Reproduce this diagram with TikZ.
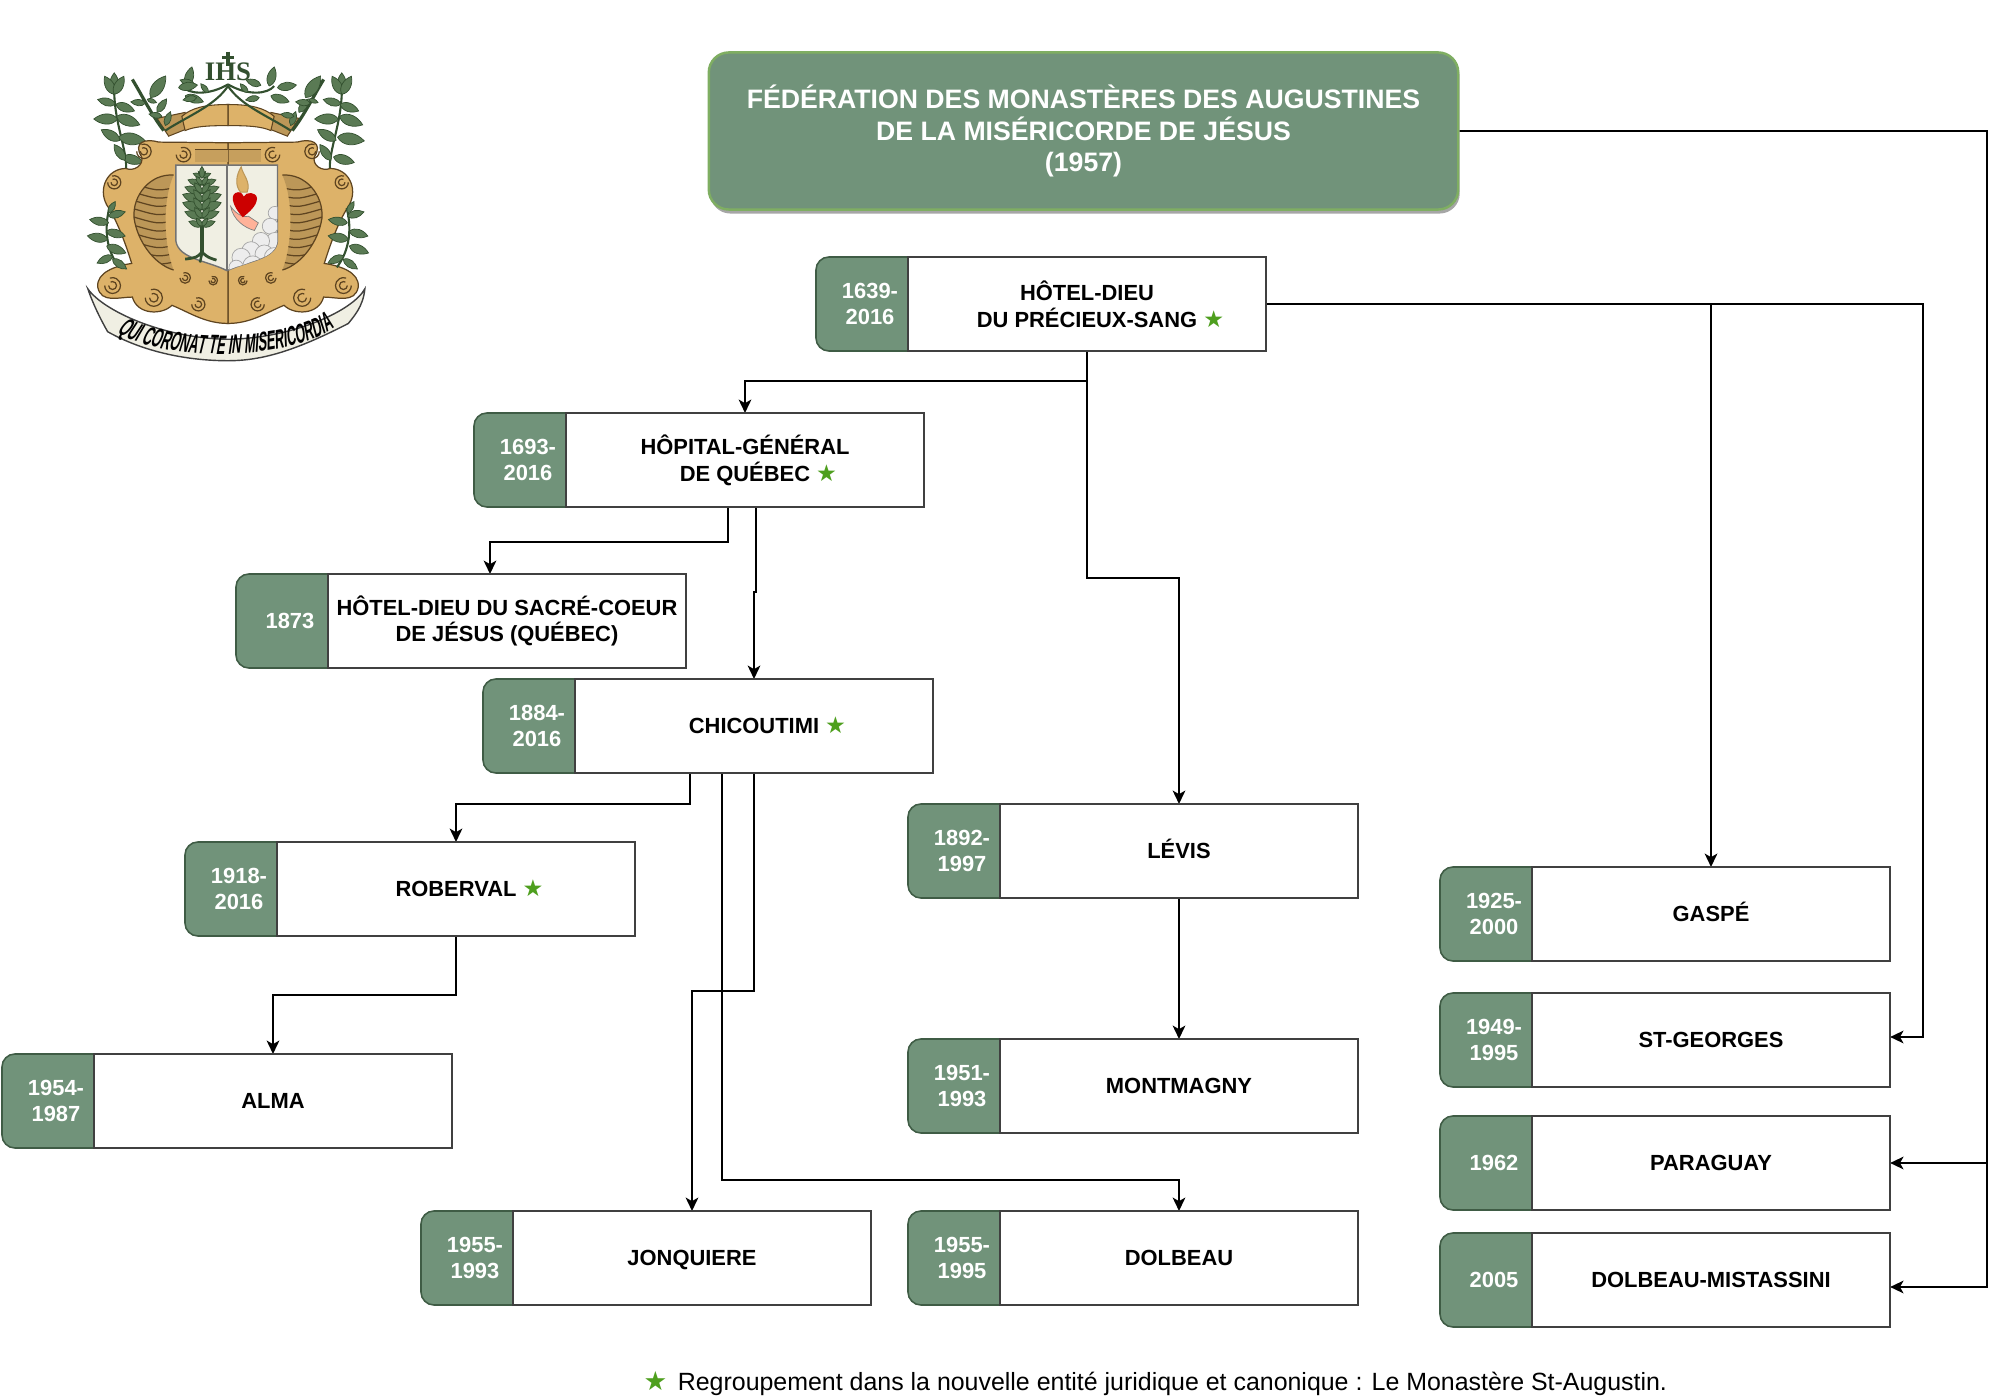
\documentclass[tikz,border=0pt]{standalone}
\usepackage{fontspec}
\setmainfont{Liberation Sans}
\newfontfamily\symbolfont{DejaVu Sans}
\newfontfamily\devisefont[FakeStretch=0.48,FakeSlant=0.18]{Liberation Sans}
\newfontfamily\ihsfont{Liberation Serif}
\usetikzlibrary{arrows.meta,decorations.text}
\definecolor{sage}{HTML}{71937A}
\definecolor{sagedark}{HTML}{3F5C45}
\definecolor{sageline}{HTML}{7FAE62}
\definecolor{stargreen}{HTML}{4E9F1E}
\definecolor{gold}{HTML}{DDB269}
\definecolor{golddark}{HTML}{BC9758}
\definecolor{brun}{HTML}{5E4420}
\definecolor{laurel}{HTML}{5A7A54}
\definecolor{laureldark}{HTML}{33502F}
\definecolor{parchemin}{HTML}{F0EFE3}
\newcommand{\cale}{\rule[-0.28em]{0pt}{1.28em}}
\pgfdeclarelayer{edgelayer}
\pgfdeclarelayer{nodelayer}
\pgfsetlayers{edgelayer,nodelayer,main}
\tikzstyle{titre}=[rectangle, rounded corners=0.2cm, fill=sage, draw=sageline, line width=0.7pt, text=white, minimum width=7.49cm, minimum height=1.57cm, align=center, outer sep=0pt, inner sep=0pt, font=\fontsize{7.58}{8.9}\selectfont\bfseries]
\tikzstyle{ombre}=[rectangle, rounded corners=0.2cm, fill=black!35, minimum width=7.49cm, minimum height=1.57cm, inner sep=0pt]
\tikzstyle{annee}=[rectangle, rounded corners=0.13cm, fill=sage, draw=sagedark, line width=0.45pt, text=white, minimum width=1.08cm, minimum height=0.94cm, align=center, outer sep=0pt, inner sep=0pt, font=\fontsize{6.23}{7.6}\selectfont\bfseries]
\tikzstyle{nom}=[rectangle, fill=white, draw=black!75, line width=0.45pt, minimum width=3.58cm, minimum height=0.94cm, align=center, outer sep=0pt, inner sep=0pt, font=\fontsize{6.23}{7.6}\selectfont\bfseries]
\tikzstyle{nomseul}=[style=nom, execute at begin node=\cale, execute at end node=\cale]
\tikzstyle{legende}=[anchor=west, inner sep=0pt, font=\fontsize{7.09}{8}\selectfont]
\tikzstyle{lien}=[-{Stealth[length=3.8pt,width=3.6pt,inset=1pt]}, draw=black, line width=0.55pt]
\tikzstyle{volute}=[draw=brun, line width=0.35pt]
\tikzstyle{tige}=[draw=laureldark, line width=0.6pt]
\tikzset{feuille/.pic={\fill[laurel, draw=laureldark, line width=0.2pt] (0,0) .. controls (10,-13) and (28,-10) .. (40,0) .. controls (28,10) and (10,13) .. (0,0);}}
\newcommand{\etoile}{{\symbolfont\fontsize{1.06em}{1em}\selectfont\textcolor{stargreen}{★}}}
\newcommand{\ecu}{(-158,410) -- (150,410) -- (150,640) .. controls (145,695) and (60,700) .. (-3,730) .. controls (-60,700) and (-150,695) .. (-158,640) -- cycle}

\begin{document}
\begin{tikzpicture}[x=0.01cm, y=-0.01cm]
            \useasboundingbox (0,0) rectangle (2000,1398);
            \begin{pgfonlayer}{nodelayer}
                \node [style=ombre] (titreO) at (1085, 135) {};
                \node [style=titre] (titre) at (1083.5, 131) {FÉDÉRATION DES MONASTÈRES DES AUGUSTINES\\DE LA MISÉRICORDE DE JÉSUS\\(1957)};

                \node [style=annee] (hdA) at (870, 304) {1639-\\2016};
                \node [style=nom] (hd) at (1087, 304) {HÔTEL-DIEU\\DU PRÉCIEUX-SANG\rlap{ \etoile}};
                \node [style=annee] (hopA) at (528, 460) {1693-\\2016};
                \node [style=nom] (hop) at (745, 460) {HÔPITAL-GÉNÉRAL\\DE QUÉBEC\rlap{ \etoile}};
                \node [style=annee] (sacA) at (290, 621) {1873};
                \node [style=nom] (sac) at (507, 621) {HÔTEL-DIEU DU SACRÉ-COEUR\\DE JÉSUS (QUÉBEC)};
                \node [style=annee] (chicA) at (537, 726) {1884-\\2016};
                \node [style=nomseul] (chic) at (754, 726) {CHICOUTIMI\rlap{ \etoile}};
                \node [style=annee] (robA) at (239, 889) {1918-\\2016};
                \node [style=nomseul] (rob) at (456, 889) {ROBERVAL\rlap{ \etoile}};
                \node [style=annee] (almaA) at (56, 1101) {1954-\\1987};
                \node [style=nomseul] (alma) at (273, 1101) {ALMA};
                \node [style=annee] (jonA) at (475, 1258) {1955-\\1993};
                \node [style=nomseul] (jon) at (692, 1258) {JONQUIERE};

                \node [style=annee] (levA) at (962, 851) {1892-\\1997};
                \node [style=nomseul] (lev) at (1179, 851) {LÉVIS};
                \node [style=annee] (montA) at (962, 1086) {1951-\\1993};
                \node [style=nomseul] (mont) at (1179, 1086) {MONTMAGNY};
                \node [style=annee] (dolA) at (962, 1258) {1955-\\1995};
                \node [style=nomseul] (dol) at (1179, 1258) {DOLBEAU};

                \node [style=annee] (gasA) at (1494, 914) {1925-\\2000};
                \node [style=nomseul] (gas) at (1711, 914) {GASPÉ};
                \node [style=annee] (geoA) at (1494, 1040) {1949-\\1995};
                \node [style=nomseul] (geo) at (1711, 1040) {ST-GEORGES};
                \node [style=annee] (parA) at (1494, 1163) {1962};
                \node [style=nomseul] (par) at (1711, 1163) {PARAGUAY};
                \node [style=annee] (misA) at (1494, 1280) {2005};
                \node [style=nomseul] (mis) at (1711, 1280) {DOLBEAU-MISTASSINI};

                \node [style=legende] (note) at (643, 1384) {\etoile\hspace{0.42em}Regroupement dans la nouvelle entité juridique et canonique : Le Monastère St-Augustin.};

                \coordinate (bendHop) at (900, 381);
                \coordinate (bendLev) at (1150, 578);
                \coordinate (bendSac) at (728, 542);
                \coordinate (inSac) at (490, 574);
                \coordinate (jogChic) at (756, 592);
                \coordinate (bendRob) at (690, 804);
                \coordinate (bendDol) at (722, 1180);
                \coordinate (bendJon) at (720, 991);
                \coordinate (bendAlma) at (350, 995);
                \coordinate (railGeo) at (1923, 1037);
                \coordinate (railPar) at (1987, 1163);
                \coordinate (railMis) at (1987, 1287);
            \end{pgfonlayer}
            \begin{pgfonlayer}{edgelayer}
                \draw [style=lien] (hd.south) |- (bendHop) -| (hop.north);
                \draw [style=lien] (hd.south) |- (bendLev) -| (lev.north);
                \draw [style=lien] (bendSac |- hop.south) -- (bendSac) -| (inSac);
                \draw [style=lien] (jogChic |- hop.south) -- (jogChic) -| (chic.north);
                \draw [style=lien] (bendRob |- chic.south) -- (bendRob) -| (rob.north);
                \draw [style=lien] (bendDol |- chic.south) -- (bendDol) -| (dol.north);
                \draw [style=lien] (chic.south) |- (bendJon) -| (jon.north);
                \draw [style=lien] (rob.south) |- (bendAlma) -| (alma.north);
                \draw [style=lien] (lev.south) -- (mont.north);
                \draw [style=lien] (hd.east) -| (gas.north);
                \draw [style=lien] (hd.east) -| (railGeo) -- (geo.east |- railGeo);
                \draw [style=lien] (titre.east) -| (railMis) -- (mis.east |- railMis);
                \draw [style=lien] (railPar) -- (par.east);
            \end{pgfonlayer}

            \begin{scope}[shift={(228, 30)}, x=0.0033cm, y=-0.0033cm]
                \foreach \cote in {1,-1} {
                    \begin{scope}[xscale=\cote]
                        \draw [style=tige] (310,435) .. controls (300,370) and (350,280) .. (345,160);
                        \foreach \px/\py/\ang/\len in {345/195/90/65, 345/195/118/62, 345/195/62/62, 340/225/-20/60, 338/262/-20/75, 332/325/-8/82, 320/385/-15/65, 342/225/165/55, 335/270/180/72, 328/335/150/65, 312/395/125/58} {
                            \pic [rotate=\ang, scale=\len/40] at (\px,\py) {feuille};
                        }
                        \fill [gold, draw=brun, line width=0.35pt] (0,342) -- (210,340) .. controls (250,328) and (290,340) .. (262,385) .. controls (255,410) and (285,430) .. (310,420) .. controls (365,420) and (395,480) .. (368,530) .. controls (335,580) and (310,650) .. (292,708) .. controls (340,715) and (400,735) .. (395,780) .. controls (385,830) and (330,810) .. (290,810) .. controls (275,865) and (200,865) .. (170,835) .. controls (120,855) and (70,890) .. (0,890) -- cycle;
                        \fill [golddark] (165,440) .. controls (235,435) and (290,500) .. (285,570) .. controls (275,640) and (225,710) .. (165,728) .. controls (195,650) and (200,520) .. (165,440) -- cycle;
                        \begin{scope}
                            \clip (165,440) .. controls (235,435) and (290,500) .. (285,570) .. controls (275,640) and (225,710) .. (165,728) .. controls (195,650) and (200,520) .. (165,440) -- cycle;
                            \foreach \py in {480,505,...,740} {
                                \draw [style=volute] (170,\py) .. controls (215,\py+8) .. (290,\py-14);
                            }
                        \end{scope}
                        \draw [style=volute] (165,440) .. controls (235,435) and (290,500) .. (285,570) .. controls (275,640) and (225,710) .. (165,728);
                        \foreach \px/\py/\r in {135/378/22, 255/368/22, 345/462/20, 350/775/24, 130/752/16, 225/812/26, 90/832/20, 45/760/13} {
                            \draw [style=volute] (\px+\r,\py) arc [start angle=0, end angle=290, radius=\r];
                            \draw [style=volute] (\px+\r/2,\py) arc [start angle=0, end angle=300, radius=\r/2];
                        }
                        \fill [golddark!70!gold] (0,365) rectangle (100,400);
                        \draw [style=volute] (0,362) -- (100,362);
                        \fill [golddark, draw=brun, line width=0.3pt] (130,250) -- (215,268) -- (180,322) -- (120,298) -- cycle;
                        \fill [gold, draw=brun, line width=0.3pt] (0,226) .. controls (70,226) and (110,236) .. (140,262) -- (130,305) .. controls (100,292) and (60,290) .. (0,290) -- cycle;
                        \draw [style=tige, line width=0.9pt] (195,305) .. controls (230,260) and (260,200) .. (290,150);
                        \draw [style=tige] (0,165) .. controls (60,200) and (120,195) .. (140,170);
                        \draw [style=tige] (0,170) .. controls (40,230) and (120,260) .. (190,305);
                        \foreach \px/\py/\ang/\len in {125/170/75/60, 100/168/160/48, 150/175/8/58, 130/200/-18/58, 95/205/190/42, 60/190/130/35, 235/205/55/80, 215/250/55/50, 250/222/175/45, 190/290/70/45, 200/262/170/40, 245/210/-20/30} {
                            \pic [rotate=\ang, scale=\len/40] at (\px,\py) {feuille};
                        }
                        \draw [style=tige] (360,540) .. controls (380,620) and (360,680) .. (330,720);
                        \foreach \px/\py/\ang/\len in {362/555/60/40, 362/565/15/52, 368/610/-15/58, 368/655/-20/62, 350/695/-35/52, 362/585/170/58, 365/635/170/62, 350/685/205/52} {
                            \pic [rotate=\ang, scale=\len/40] at (\px,\py) {feuille};
                        }
                    \end{scope}
                }
                \draw [style=tige, line width=1.1pt] (0,66) -- (0,110);
                \draw [style=tige, line width=0.9pt] (-17,84) -- (17,84);
                \node [text=laureldark, font=\ihsfont\bfseries\fontsize{7.6}{8}\selectfont, inner sep=0pt] (ihs) at (0,128) {IHS};

                \fill [parchemin, draw=black!55, line width=0.4pt] \ecu;
                \begin{scope}
                    \clip \ecu;
                    \foreach \px/\py/\r in {142/555/20, 128/595/24, 142/640/26, 100/640/26, 70/670/28, 40/690/28, 110/680/28, 140/690/30, 25/720/22, 75/715/30} {
                        \fill [black!7, draw=black!35, line width=0.2pt] (\px,\py) circle (\r);
                    }
                \end{scope}
                \draw [draw=black!55, line width=0.5pt] (-3,410) -- (-3,730);
                \fill [laureldark] (-85,590) rectangle (-73,680);
                \draw [style=tige, line width=0.8pt] (-80,675) .. controls (-95,690) .. (-130,695);
                \draw [style=tige, line width=0.8pt] (-78,675) .. controls (-60,690) .. (-35,698);
                \draw [style=tige, line width=0.7pt] (-79,678) -- (-85,705);
                \foreach \py/\len in {445/28, 470/45, 495/55, 520/62, 545/62, 570/55, 595/42} {
                    \pic [rotate=20, scale=\len/40] at (-79,\py) {feuille};
                    \pic [rotate=160, scale=\len/40] at (-79,\py) {feuille};
                    \pic [rotate=55, scale=0.7*\len/40] at (-79,\py) {feuille};
                    \pic [rotate=125, scale=0.7*\len/40] at (-79,\py) {feuille};
                }
                \pic [rotate=90, scale=0.9] at (-79,450) {feuille};

                \fill [gold, draw=golddark, line width=0.3pt] (38,492) .. controls (20,470) and (25,440) .. (40,415) .. controls (45,440) and (70,460) .. (58,492) -- cycle;
                \fill [pink!80!orange, draw=black!50, line width=0.2pt] (8,535) .. controls (25,560) and (50,570) .. (62,565) -- (92,585) -- (80,608) .. controls (50,600) and (15,575) .. (8,535) -- cycle;
                \fill [red!80!black] (45,568) .. controls (10,530) and (5,495) .. (30,492) .. controls (40,490) and (45,500) .. (48,505) .. controls (55,490) and (85,490) .. (88,510) .. controls (88,535) and (60,555) .. (45,568) -- cycle;

                \fill [parchemin, draw=black!75, line width=0.4pt] (-425,785) .. controls (-380,850) and (-200,935) .. (0,938) .. controls (200,935) and (380,850) .. (415,785) .. controls (410,840) and (380,870) .. (365,890) .. controls (200,975) and (100,1003) .. (0,1003) .. controls (-100,1003) and (-240,985) .. (-365,915) .. controls (-385,880) and (-410,830) .. (-425,785) -- cycle;
                \path [decorate, decoration={text along path, text align=center, text={|\devisefont\bfseries\fontsize{7.6}{8}\selectfont|QUI CORONAT TE IN MISERICORDIA}}] (-340,915) .. controls (-200,1008) and (180,1008) .. (325,900);
            \end{scope}
        \end{tikzpicture}
\end{document}
